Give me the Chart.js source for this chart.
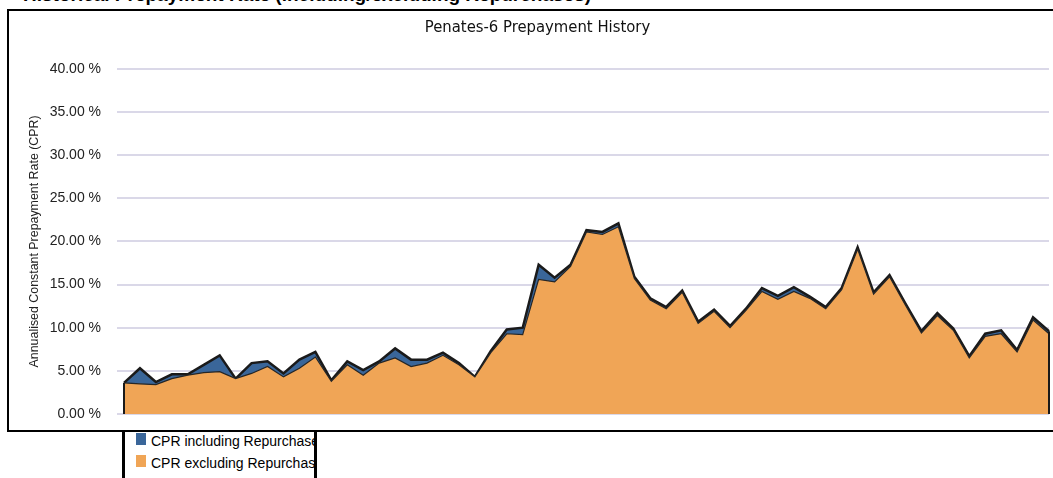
<!DOCTYPE html>
<html>
<head>
<meta charset="utf-8">
<script src="https://cdn.jsdelivr.net/npm/chart.js@4"></script>
<style>
  html, body { margin: 0; padding: 0; background: #fff; overflow: hidden; }
  #wrap { position: relative; width: 1053px; height: 478px; overflow: hidden; }
  #top-title { position: absolute; left: 23px; top: -15px; font: bold 19px "Liberation Sans", Arial, sans-serif; line-height: 19px; white-space: nowrap; color: #000; }
  #frame { position: absolute; left: 7px; top: 9px; width: 1100px; height: 419px; border: 2px solid #000; }
  #chart { position: absolute; left: 0; top: 0; width: 1053px; height: 430px; }
  #legend { position: absolute; left: 122px; top: 430px; width: 189px; height: 60px; border-left: 3px solid #000; border-right: 3px solid #000; overflow: hidden; font: 14px "Liberation Sans", Arial, sans-serif; color: #000; }
  .item { position: absolute; left: 11px; white-space: nowrap; }
  .item span { display: inline-block; width: 10px; height: 12px; vertical-align: top; margin-right: 5px; }
</style>
</head>
<body>
<div id="wrap">
  <div id="top-title">Historical Prepayment Rate (including/excluding Repurchases)</div>
  <div id="frame"></div>
  <canvas id="chart" width="1053" height="430"></canvas>
  <div id="legend"></div>
</div>
<script>
// chart data (CPR in percent, one value per period)
const chartTitle = "Penates-6 Prepayment History";
const axisTitle = "Annualised Constant Prepayment Rate (CPR)";
const seriesNames = ["CPR including Repurchases", "CPR excluding Repurchases"];
const seriesColors = ["#3A6699", "#F0A556"];

const cprIncl = [
  3.6, 5.3, 3.7, 4.6, 4.6, 5.7, 6.8, 4.1, 5.9, 6.1,
  4.7, 6.3, 7.2, 3.9, 6.1, 5.1, 6.1, 7.6, 6.3, 6.3,
  7.1, 5.9, 4.3, 7.3, 9.8, 10.0, 17.3, 15.8, 17.3, 21.3,
  21.1, 22.1, 15.9, 13.4, 12.4, 14.3, 10.7, 12.1, 10.2, 12.2,
  14.6, 13.7, 14.7, 13.6, 12.4, 14.6, 19.3, 14.1, 16.1, 12.8,
  9.6, 11.7, 9.9, 6.7, 9.3, 9.7, 7.4, 11.2, 9.6
];
const cprExcl = [
  3.6, 3.5, 3.4, 4.1, 4.5, 4.8, 4.9, 4.1, 4.7, 5.5,
  4.3, 5.3, 6.6, 3.8, 5.7, 4.5, 5.9, 6.5, 5.5, 5.9,
  6.8, 5.7, 4.3, 7.1, 9.3, 9.2, 15.6, 15.3, 17.1, 21.1,
  20.8, 21.7, 15.7, 13.2, 12.2, 14.1, 10.5, 11.9, 10.0, 12.0,
  14.2, 13.3, 14.2, 13.4, 12.2, 14.4, 19.1, 13.9, 15.9, 12.6,
  9.4, 11.4, 9.7, 6.5, 9.0, 9.3, 7.2, 10.9, 9.3
];
const periods = cprIncl.map((v, i) => String(i + 1));
const yTicks = [0, 5, 10, 15, 20, 25, 30, 35, 40];

///////////////////////////////////////////////////////////////////////////////
// legend (clipped box under the chart frame)
function drawLegend()
{
    let box = document.getElementById("legend");
    let tops = [3, 25];
    seriesNames.forEach((name, i) =>
    {
        let div = document.createElement("div");
        div.className = "item";
        div.style.top = tops[i] + "px";
        div.innerHTML = '<span style="background:' + seriesColors[i] + '"></span>' + name;
        box.appendChild(div);
    });
}

// close the area outline at both ends (vertical edges down to 0)
const edgePlugin = {
    id: "edges",
    afterDatasetsDraw(chart)
    {
        let ctx = chart.ctx;
        let y0 = chart.scales.y.getPixelForValue(0);
        let pts = chart.getDatasetMeta(0).data;
        let ends = [pts[0], pts[pts.length - 1]];
        ctx.save();
        ctx.strokeStyle = "#1a1a1a";
        ctx.lineWidth = 2;
        ends.forEach(p =>
        {
            ctx.beginPath();
            ctx.moveTo(p.x, p.y);
            ctx.lineTo(p.x, y0);
            ctx.stroke();
        });
        ctx.restore();
    }
};

///////////////////////////////////////////////////////////////////////////////
function drawChart()
{
    let context = document.getElementById("chart").getContext("2d");

    new Chart(context,
    {
        type: "line",
        data:
        {
            labels: periods,
            datasets:
            [{
                label: seriesNames[0],
                data: cprIncl,
                backgroundColor: seriesColors[0],
                borderColor: "#1a1a1a",
                borderWidth: 2.5,
                fill: "origin",
                tension: 0,
                pointRadius: 0,
                order: 2
            },
            {
                label: seriesNames[1],
                data: cprExcl,
                backgroundColor: seriesColors[1],
                borderColor: "#262626",
                borderWidth: 1.2,
                fill: "origin",
                tension: 0,
                pointRadius: 0,
                order: 1
            }]
        },
        options:
        {
            responsive: false,
            maintainAspectRatio: false,
            animation: false,
            layout: { padding: { left: 26, right: 4, top: 0, bottom: 16 } },
            plugins:
            {
                legend: { display: false },
                tooltip: { enabled: false },
                title:
                {
                    display: true,
                    text: chartTitle,
                    color: "#111",
                    font: { family: "'DejaVu Sans Condensed', 'DejaVu Sans', sans-serif", size: 16.5, weight: "normal" },
                    padding: { top: 18, bottom: 31 }
                }
            },
            scales:
            {
                x:
                {
                    display: false,
                    offset: false
                },
                y:
                {
                    min: 0,
                    max: 40,
                    // keep the wide label gap from pushing the plot area up
                    afterFit: scale =>
                    {
                        scale.width = 98;
                        scale.paddingTop = 9;
                        scale.paddingBottom = 9;
                    },
                    afterBuildTicks: scale => { scale.ticks = yTicks.map(v => ({ value: v })); },
                    ticks:
                    {
                        color: "#222",
                        padding: 16,
                        font: { family: "'Liberation Sans', Arial, sans-serif", size: 14 },
                        callback: v => v.toFixed(2) + " %"
                    },
                    grid:
                    {
                        color: "#DAD8E8",
                        lineWidth: 2,
                        tickLength: 7
                    },
                    border: { display: false },
                    title:
                    {
                        display: true,
                        text: axisTitle,
                        color: "#222",
                        font: { family: "'Liberation Sans', Arial, sans-serif", size: 12.4 },
                        padding: { top: 1, bottom: 0 }
                    }
                }
            }
        },
        plugins: [edgePlugin]
    });
}

document.addEventListener("DOMContentLoaded", e =>
{
    drawChart();
    drawLegend();
});
</script>
</body>
</html>
